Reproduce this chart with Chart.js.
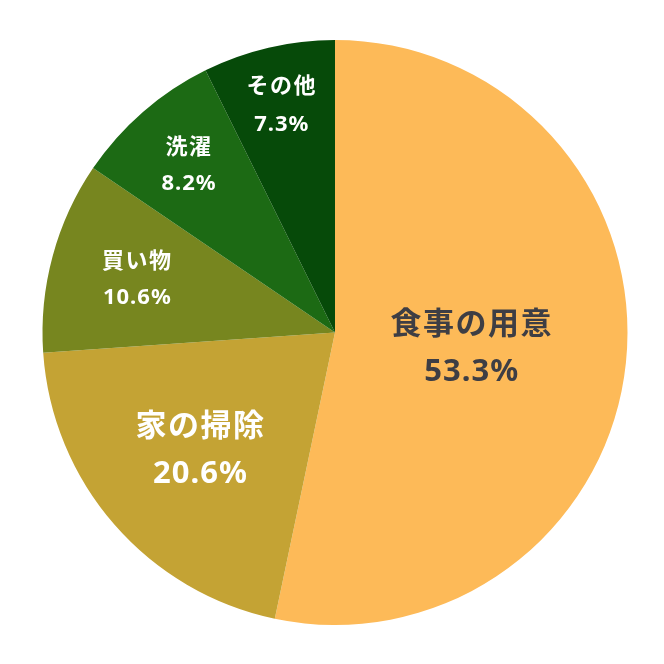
<!DOCTYPE html>
<html>
<head>
<meta charset="utf-8">
<script src="https://cdn.jsdelivr.net/npm/chart.js@4.4.1/dist/chart.umd.min.js"></script>
<style>
  html, body { margin: 0; padding: 0; background: #fff; }
  #wrap { width: 664px; height: 664px; }
</style>
</head>
<body>
<div id="wrap"><canvas id="grafico" width="664" height="664"></canvas></div>
<script>
const categorias = ['食事の用意', '家の掃除', '買い物', '洗濯', 'その他'];
const valores = [53.3, 20.6, 10.6, 8.2, 7.3];
const etiquetas = ['53.3%', '20.6%', '10.6%', '8.2%', '7.3%'];
const colores = ['#FDBA58', '#C4A334', '#77861F', '#1C6A14', '#064A09'];

// label placement per slice: radial fraction, font size, half line gap, text colour
const estiloEtiqueta = [
    { r: 0.47, size: 31, gap: 25, color: '#3E3E44' },
    { r: 0.61, size: 31, gap: 25, color: '#ffffff' },
    { r: 0.70, size: 22, gap: 19, color: '#ffffff' },
    { r: 0.76, size: 22, gap: 19, color: '#ffffff' },
    { r: 0.80, size: 22, gap: 20, color: '#ffffff' },
];

const etiquetasPlugin = {
    id: 'etiquetas',
    afterDatasetsDraw(chart) {
        const ctx = chart.ctx;
        const meta = chart.getDatasetMeta(0);
        meta.data.forEach((arc, i) => {
            const st = estiloEtiqueta[i];
            const mid = (arc.startAngle + arc.endAngle) / 2;
            const rr = arc.outerRadius * st.r;
            const x = arc.x + Math.cos(mid) * rr;
            const y = arc.y + Math.sin(mid) * rr;
            ctx.save();
            ctx.fillStyle = st.color;
            ctx.textAlign = 'center';
            ctx.textBaseline = 'middle';
            ctx.letterSpacing = '1.5px';
            ctx.font = `bold ${st.size}px "Noto Sans CJK JP", "Noto Sans", sans-serif`;
            ctx.fillText(categorias[i], x, y - st.gap);
            ctx.letterSpacing = '1px';
            ctx.font = `bold ${st.size}px "Noto Sans", "Noto Sans CJK JP", sans-serif`;
            ctx.fillText(etiquetas[i], x, y + st.gap);
            ctx.restore();
        });
    }
};

const ctx = document.getElementById('grafico').getContext('2d');
new Chart(ctx, {
    type: 'pie',
    data: {
        labels: categorias,
        datasets: [{
            data: valores,
            backgroundColor: colores,
            borderWidth: 0,
        }],
    },
    options: {
        responsive: false,
        animation: false,
        layout: { padding: { left: 42, right: 36, top: 40, bottom: 39 } },
        plugins: {
            legend: { display: false },
            tooltip: { enabled: false },
        },
    },
    plugins: [etiquetasPlugin],
});
</script>
</body>
</html>
